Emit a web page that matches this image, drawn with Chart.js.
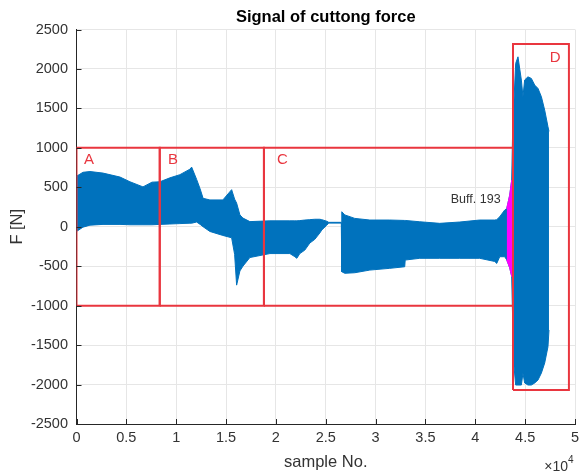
<!DOCTYPE html>
<html>
<head>
<meta charset="utf-8">
<script src="https://cdn.jsdelivr.net/npm/chart.js@4"></script>
<style>
  body { margin: 0; background: #fff; }
</style>
</head>
<body>
<canvas id="chart" width="579" height="476"></canvas>
<script>
// envelope of the cutting force signal
const samples = [0, 650, 1350, 2660, 4360, 5360, 6670, 7570, 8370, 9370, 10370, 11380, 11550, 12050, 12400, 12700,
  13380, 14680, 15560, 15860, 16060, 16390, 16690, 17390, 19400, 21400, 21900, 22100, 22400, 22900, 23400, 23900,
  24400, 24600, 25100, 25300, 26560, 26610, 26910, 27910, 29420, 31420, 32920, 32970, 34430, 36430, 38440, 40440,
  41950, 42150, 42450, 42950, 43150, 43450, 43650, 43780, 43850, 44050, 44280, 44620, 44780, 44950, 45280, 45620,
  45960, 46290, 46630, 46960, 47290, 47390];
const upper = [640, 690, 700, 680, 630, 570, 505, 565, 570, 620, 660, 730, 756, 600, 480, 360,
  340, 340, 470, 350, 300, 150, 110, 65, 75, 75, 75, 75, 78, 85, 90, 95,
  95, 90, 70, 56, 56, 190, 150, 106, 85, 85, 80, 80, 63, 43, 60, 85,
  85, 90, 127, 212, 230, 400, 590, 1450, 1520, 2070, 2154, 1859, 1647, 1860, 1900, 1880,
  1795, 1753, 1647, 1478, 1267, 1209];
const lower = [-60, -5, 20, 30, 30, 25, 25, 25, 30, 35, 40, 45, 45, 60, 30, 0,
  -60, -110, -140, -350, -740, -560, -500, -390, -340, -340, -380, -400, -340, -296, -207, -160,
  -80, -42, 20, 46, 46, -570, -590, -583, -549, -527, -507, -422, -400, -400, -400, -400,
  -440, -465, -380, -380, -420, -520, -630, -1370, -1727, -2006, -2006, -2006, -1854, -1980, -2006, -2006,
  -1980, -1942, -1854, -1727, -1520, -1309];

// buffer segment (magenta)
const buffSamples = [43150, 43450, 43650, 43780];
const buffUpper = [230, 400, 590, 600];
const buffLower = [-420, -520, -630, -640];

// marked regions
const regionNames = ["A", "B", "C", "D"];
const regionStart = [0, 8350, 18800, 43780];
const regionEnd = [8350, 18800, 43780, 49390];
const regionLow = [-1000, -1000, -1000, -2070];
const regionHigh = [1000, 1000, 1000, 2315];
const regionLabelX = [750, 9170, 20100, 47460];
const regionLabelY = [845, 845, 845, 2144];

const buffText = "Buff. 193";
const buffTextX = 37540;
const buffTextY = 350;

const yTicks = [-2500, -2000, -1500, -1000, -500, 0, 500, 1000, 1500, 2000, 2500];

const blue = "#0072BD";
const magenta = "#FF00FF";
const red = "#E9363F";
const textColor = "#333333";
const family = "'Liberation Sans', Arial, Helvetica, sans-serif";

function toPoints(xs, ys) {
  return xs.map((x, i) => ({ x: x, y: ys[i] }));
}

const datasets = [];

regionNames.forEach((name, i) => {
  datasets.push({
    label: "Region " + name,
    data: [
      { x: regionStart[i], y: regionLow[i] },
      { x: regionStart[i], y: regionHigh[i] },
      { x: regionEnd[i], y: regionHigh[i] },
      { x: regionEnd[i], y: regionLow[i] },
      { x: regionStart[i], y: regionLow[i] },
    ],
    borderColor: red,
    borderWidth: 2,
    pointRadius: 0,
    fill: false,
    order: 1,
  });
});

datasets.push({
  label: "buff upper",
  data: toPoints(buffSamples, buffUpper),
  borderColor: magenta,
  backgroundColor: magenta,
  borderWidth: 1,
  pointRadius: 0,
  fill: "+1",
  order: 2,
});
datasets.push({
  label: "buff lower",
  data: toPoints(buffSamples, buffLower),
  borderColor: magenta,
  borderWidth: 1,
  pointRadius: 0,
  fill: false,
  order: 2,
});
datasets.push({
  label: "force upper",
  data: toPoints(samples, upper),
  borderColor: blue,
  backgroundColor: blue,
  borderWidth: 1,
  pointRadius: 0,
  fill: "+1",
  order: 3,
});
datasets.push({
  label: "force lower",
  data: toPoints(samples, lower),
  borderColor: blue,
  borderWidth: 1,
  pointRadius: 0,
  fill: false,
  order: 3,
});

const decorations = {
  id: "decorations",
  afterDraw(chart) {
    const ctx = chart.ctx;
    const xs = chart.scales.x;
    const ys = chart.scales.y;
    const area = chart.chartArea;
    ctx.save();

    // inward tick marks like matlab
    ctx.strokeStyle = "#262626";
    ctx.lineWidth = 1;
    ctx.beginPath();
    yTicks.forEach((t) => {
      const py = Math.round(ys.getPixelForValue(t)) + 0.5;
      ctx.moveTo(area.left, py);
      ctx.lineTo(area.left + 5, py);
    });
    xs.ticks.forEach((t) => {
      const px = Math.round(xs.getPixelForValue(t.value)) + 0.5;
      ctx.moveTo(px, area.bottom);
      ctx.lineTo(px, area.bottom - 5);
    });
    ctx.stroke();

    // region letters
    ctx.fillStyle = red;
    ctx.font = "15px " + family;
    ctx.textAlign = "left";
    ctx.textBaseline = "middle";
    regionNames.forEach((name, i) => {
      ctx.fillText(name, xs.getPixelForValue(regionLabelX[i]), ys.getPixelForValue(regionLabelY[i]));
    });

    ctx.fillStyle = textColor;
    ctx.font = "12.5px " + family;
    ctx.fillText(buffText, xs.getPixelForValue(buffTextX), ys.getPixelForValue(buffTextY));

    // exponent of the x axis
    ctx.font = "14px " + family;
    ctx.textAlign = "right";
    ctx.fillText("\u00d710", area.right - 7, 467);
    ctx.font = "10px " + family;
    ctx.textAlign = "left";
    ctx.fillText("4", area.right - 7, 460);

    ctx.restore();
  },
};

const chart = new Chart(document.getElementById("chart"), {
  type: "line",
  data: { datasets: datasets },
  options: {
    responsive: false,
    animation: false,
    layout: { padding: { left: 0, right: 4, top: 0, bottom: 0 } },
    scales: {
      x: {
        type: "linear",
        min: 0,
        max: 50000,
        afterFit(scale) {
          scale.height = 52;
          scale.paddingLeft = 0;
          scale.paddingRight = 0;
        },
        ticks: {
          stepSize: 5000,
          autoSkip: false,
          maxRotation: 0,
          padding: 5.5,
          color: textColor,
          font: { family: family, size: 14.5 },
          callback: (v) => String(v / 10000),
        },
        grid: { color: "#e6e6e6", drawTicks: false },
        border: { color: "#262626", width: 1 },
        title: {
          display: true,
          text: "sample No.",
          color: textColor,
          font: { family: family, size: 16.5 },
          padding: { top: 0, bottom: 3.9 },
        },
      },
      y: {
        type: "linear",
        min: -2500,
        max: 2500,
        afterFit(scale) {
          scale.width = 76.5;
          scale.paddingTop = 0;
          scale.paddingBottom = 0;
        },
        ticks: {
          stepSize: 500,
          padding: 8.5,
          color: textColor,
          font: { family: family, size: 14.5 },
          callback: (v) => String(v),
        },
        grid: { color: "#e6e6e6", drawTicks: false },
        border: { color: "#262626", width: 1 },
        title: {
          display: true,
          text: "F [N]",
          color: textColor,
          font: { family: family, size: 16.5 },
          padding: { top: 8, bottom: 0 },
        },
      },
    },
    plugins: {
      legend: { display: false },
      tooltip: { enabled: false },
      title: {
        display: true,
        fullSize: false,
        text: "Signal of cuttong force",
        color: "#000000",
        font: { family: family, size: 16.5, weight: "bold" },
        padding: { top: 8, bottom: 1.7 },
      },
    },
  },
  plugins: [decorations],
});
</script>
</body>
</html>
